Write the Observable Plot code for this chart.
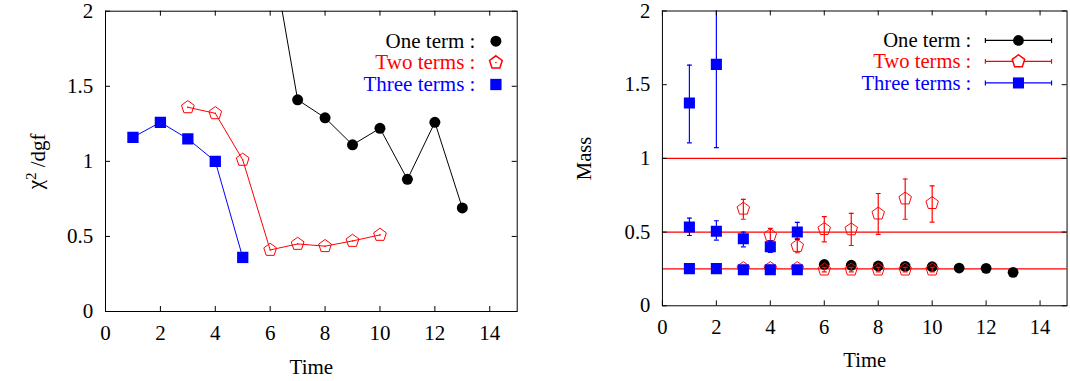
<!DOCTYPE html>
<html><head><meta charset="utf-8">
<script src="https://cdn.jsdelivr.net/npm/d3@7"></script>
<script src="https://cdn.jsdelivr.net/npm/@observablehq/plot@0.6"></script>
<style>
html,body{margin:0;padding:0;background:#fff;}
#wrap{position:relative;width:1070px;height:381px;overflow:hidden;background:#fff;}
#left,#right{position:absolute;top:0;}
#left{left:0;} #right{left:535px;}
#wrap svg{font-family:'Liberation Serif','Times New Roman',Times,serif !important;font-size:21px !important;}
</style></head><body><div id="wrap"><div id="left"></div><div id="right"></div></div>
<script>
// ---- tick labels / names ----
const xTicks = [0, 2, 4, 6, 8, 10, 12, 14];
const yTicks = [0, 0.5, 1, 1.5, 2];
const legendNames = ["One term :", "Two terms :", "Three terms :"];
const xLabel = "Time";
const yLabelLeft = "χ2/dgf";
const yLabelRight = "Mass";

// ---- left panel: chi^2 / dgf ----
const chiOneT = [6, 7, 8, 9, 10, 11, 12, 13];
const chiOne = [2.46, 1.41, 1.29, 1.11, 1.22, 0.88, 1.26, 0.69];
const chiTwoT = [3, 4, 5, 6, 7, 8, 9, 10];
const chiTwo = [1.36, 1.32, 1.01, 0.41, 0.45, 0.435, 0.47, 0.51];
const chiThreeT = [1, 2, 3, 4, 5];
const chiThree = [1.16, 1.26, 1.15, 1.00, 0.36];

// ---- right panel: masses ----
const refMasses = [0.25, 0.5, 1.0];
const massOneT = [6, 7, 8, 9, 10, 11, 12, 13];
const massOne = [0.28, 0.275, 0.27, 0.267, 0.265, 0.256, 0.254, 0.227];
const massOneErr = [0.012, 0.012, 0.012, 0.012, 0.012, 0.008, 0.008, 0.008];

const massTwoT = [3, 4, 5, 6, 7, 8, 9, 10];
const massTwoGround = [0.255, 0.255, 0.255, 0.245, 0.245, 0.245, 0.245, 0.245];
const massTwoGroundErr = [0.02, 0.02, 0.02, 0.015, 0.015, 0.015, 0.015, 0.015];
const massTwoExc = [0.658, 0.478, 0.405, 0.52, 0.518, 0.625, 0.727, 0.696];
const massTwoExcLo = [0.587, 0.44, 0.36, 0.433, 0.409, 0.485, 0.587, 0.567];
const massTwoExcHi = [0.722, 0.525, 0.455, 0.605, 0.627, 0.762, 0.86, 0.813];

const massThreeT = [1, 2, 3, 4, 5];
const massThreeGround = [0.252, 0.252, 0.244, 0.244, 0.244];
const massThreeGroundErr = [0.01, 0.01, 0.01, 0.01, 0.01];
const massThreeExc1 = [0.535, 0.506, 0.455, 0.40, 0.50];
const massThreeExc1Lo = [0.477, 0.446, 0.40, 0.362, 0.45];
const massThreeExc1Hi = [0.595, 0.577, 0.50, 0.44, 0.566];
const massThreeExc2T = [1, 2];
const massThreeExc2 = [1.376, 1.638];
const massThreeExc2Lo = [1.105, 1.073];
const massThreeExc2Hi = [1.633, 2.3];

// ---- helpers ----
const rows = (ts, vs) => ts.map((t, i) => ({t, v: vs[i]}));
const rowsErr = (ts, vs, lo, hi) => ts.map((t, i) => ({t, v: vs[i], lo: lo[i], hi: hi[i]}));
const rowsSym = (ts, vs, e) => ts.map((t, i) => ({t, v: vs[i], lo: vs[i] - e[i], hi: vs[i] + e[i]}));

const pentagon = {
  draw(ctx, size) {
    const r = Math.sqrt(size / Math.PI);
    for (let k = 0; k < 5; k++) {
      const a = -Math.PI / 2 + k * 2 * Math.PI / 5;
      const px = r * Math.cos(a), py = r * Math.sin(a);
      if (k === 0) ctx.moveTo(px, py); else ctx.lineTo(px, py);
    }
    ctx.closePath();
  }
};
const cap = { draw(ctx) { ctx.moveTo(-2.5, 0); ctx.lineTo(2.5, 0); } };
const legendBar = {
  draw(ctx) {
    const w = 33.7, h = 2.5;
    ctx.moveTo(-w, 0); ctx.lineTo(w, 0);
    ctx.moveTo(-w, -h); ctx.lineTo(-w, h);
    ctx.moveTo(w, -h); ctx.lineTo(w, h);
  }
};

const FONT = "Liberation Serif";
const FS = 21;
const H = 381, MT = 10.7, MB = 70;
const innerH = H - MT - MB;
const fmt = d3.format("~g");

function frameMarks(innerW, yLabel, yLabelDx) {
  return [
    Plot.tickX(xTicks, {x: d => d, insetTop: innerH - 5, stroke: "black"}),
    Plot.tickX(xTicks, {x: d => d, insetBottom: innerH - 5, stroke: "black"}),
    Plot.tickY(yTicks, {y: d => d, insetRight: innerW - 5, stroke: "black"}),
    Plot.tickY(yTicks, {y: d => d, insetLeft: innerW - 5, stroke: "black"}),
    Plot.axisX({ticks: xTicks, tickSize: 0, tickPadding: 14, label: null, tickFormat: fmt, fontSize: FS, fontFamily: FONT, fill: "black"}),
    Plot.axisY({ticks: yTicks, tickSize: 0, tickPadding: 12.3, label: null, tickFormat: fmt, fontSize: FS, fontFamily: FONT, fill: "black"}),
    Plot.text([xLabel], {frameAnchor: "bottom", dy: 55.3, lineAnchor: "middle", fill: "black", fontSize: FS, fontFamily: FONT}),
    Plot.text([yLabel], {frameAnchor: "left", rotate: -90, dx: yLabelDx, lineAnchor: "middle", textAnchor: "middle", fill: "black", fontSize: FS, fontFamily: FONT, className: "ylab"}),
    Plot.frame({stroke: "black"})
  ];
}

function errorMarks(data, color) {
  return [
    Plot.ruleX(data, {x: "t", y1: "lo", y2: "hi", stroke: color, strokeWidth: 1.2, clip: true}),
    Plot.dot(data, {x: "t", y: "hi", symbol: cap, r: 3, stroke: color, fill: "none", strokeWidth: 1.2, clip: true}),
    Plot.dot(data, {x: "t", y: "lo", symbol: cap, r: 3, stroke: color, fill: "none", strokeWidth: 1.2, clip: true})
  ];
}

const legendDy = [30, 51.3, 73.3];
const legendColors = ["black", "red", "blue"];
function legendTexts(dx) {
  return legendNames.map((name, i) =>
    Plot.text([name], {frameAnchor: "top-right", dx, dy: legendDy[i], textAnchor: "end", lineAnchor: "middle", fill: legendColors[i], fontSize: FS, fontFamily: FONT}));
}

// ---- LEFT ----
const LW = 535, LML = 105, LMR = 18.3;
const leftInnerW = LW - LML - LMR;
const one = rows(chiOneT, chiOne), two = rows(chiTwoT, chiTwo), three = rows(chiThreeT, chiThree);

const left = Plot.plot({
  width: LW, height: H, marginLeft: LML, marginRight: LMR, marginTop: MT, marginBottom: MB,
  x: {domain: [0, 15]}, y: {domain: [0, 2]},
  style: {fontFamily: FONT, fontSize: "21px", background: "white", color: "black", overflow: "visible"},
  marks: [
    Plot.line(one, {x: "t", y: "v", stroke: "black", strokeWidth: 1, clip: true}),
    Plot.dot(one, {x: "t", y: "v", r: 5.5, fill: "black", stroke: "none", clip: true}),
    Plot.line(two, {x: "t", y: "v", stroke: "red", strokeWidth: 1, clip: true}),
    Plot.dot(two, {x: "t", y: "v", symbol: pentagon, r: 6.7, fill: "none", stroke: "red", strokeWidth: 1, clip: true}),
    Plot.dot(two, {x: "t", y: "v", r: 0.8, fill: "red", stroke: "none", clip: true}),
    Plot.line(three, {x: "t", y: "v", stroke: "blue", strokeWidth: 1, clip: true}),
    Plot.dot(three, {x: "t", y: "v", symbol: "square", r: 6.37, fill: "blue", stroke: "none", clip: true}),
    ...frameMarks(leftInnerW, yLabelLeft, -70.2),
    ...legendTexts(-41.8),
    Plot.dot([0], {frameAnchor: "top-right", dx: -21.3, dy: legendDy[0], r: 5.5, fill: "black"}),
    Plot.dot([0], {frameAnchor: "top-right", dx: -21.3, dy: legendDy[1], symbol: pentagon, r: 6.7, fill: "none", stroke: "red"}),
    Plot.dot([0], {frameAnchor: "top-right", dx: -21.3, dy: legendDy[1], r: 0.8, fill: "red"}),
    Plot.dot([0], {frameAnchor: "top-right", dx: -21.3, dy: legendDy[2], symbol: "square", r: 6.37, fill: "blue"})
  ]
});
document.getElementById("left").appendChild(left);

// superscript the "2" in χ2/dgf (kept as real text, split into tspans)
left.querySelectorAll("text").forEach(t => {
  if (t.textContent === yLabelLeft) {
    const ns = "http://www.w3.org/2000/svg";
    t.textContent = "";
    const a = document.createElementNS(ns, "tspan"); a.textContent = "χ";
    const b = document.createElementNS(ns, "tspan"); b.textContent = "2";
    b.setAttribute("dy", "-0.42em"); b.setAttribute("font-size", "15");
    const c = document.createElementNS(ns, "tspan"); c.textContent = " /dgf";
    c.setAttribute("dy", "0.42em"); c.setAttribute("font-size", "21");
    t.append(a, b, c);
  }
});

// ---- RIGHT ----
const RW = 545, RML = 129.3, RMR = 3.5;
const rightInnerW = RW - RML - RMR;
const mOne = rowsSym(massOneT, massOne, massOneErr);
const mTwoG = rowsSym(massTwoT, massTwoGround, massTwoGroundErr);
const mTwoE = rowsErr(massTwoT, massTwoExc, massTwoExcLo, massTwoExcHi);
const mThreeG = rowsSym(massThreeT, massThreeGround, massThreeGroundErr);
const mThreeE1 = rowsErr(massThreeT, massThreeExc1, massThreeExc1Lo, massThreeExc1Hi);
const mThreeE2 = rowsErr(massThreeExc2T, massThreeExc2, massThreeExc2Lo, massThreeExc2Hi);

const legRDxText = -97.5, legRDxMark = -49.5;
const right = Plot.plot({
  width: RW, height: H, marginLeft: RML, marginRight: RMR, marginTop: MT, marginBottom: MB,
  x: {domain: [0, 15]}, y: {domain: [0, 2]},
  style: {fontFamily: FONT, fontSize: "21px", background: "white", color: "black", overflow: "visible"},
  marks: [
    Plot.ruleY(refMasses, {y: d => d, stroke: "red", strokeWidth: 1.2}),
    ...errorMarks(mOne, "black"),
    Plot.dot(mOne, {x: "t", y: "v", r: 5.5, fill: "black", stroke: "none", clip: true}),
    ...errorMarks(mTwoG, "red"),
    ...errorMarks(mTwoE, "red"),
    Plot.dot(mTwoG, {x: "t", y: "v", symbol: pentagon, r: 6.7, fill: "none", stroke: "red", strokeWidth: 1, clip: true}),
    Plot.dot(mTwoE, {x: "t", y: "v", symbol: pentagon, r: 6.7, fill: "none", stroke: "red", strokeWidth: 1, clip: true}),
    ...errorMarks(mThreeG, "blue"),
    ...errorMarks(mThreeE1, "blue"),
    ...errorMarks(mThreeE2, "blue"),
    Plot.dot(mThreeG, {x: "t", y: "v", symbol: "square", r: 6.37, fill: "blue", stroke: "none", clip: true}),
    Plot.dot(mThreeE1, {x: "t", y: "v", symbol: "square", r: 6.37, fill: "blue", stroke: "none", clip: true}),
    Plot.dot(mThreeE2, {x: "t", y: "v", symbol: "square", r: 6.37, fill: "blue", stroke: "none", clip: true}),
    ...frameMarks(rightInnerW, yLabelRight, -79.3),
    ...legendTexts(legRDxText),
    ...legendColors.map((c, i) => Plot.dot([0], {frameAnchor: "top-right", dx: legRDxMark, dy: legendDy[i], symbol: legendBar, r: 3, fill: "none", stroke: c, strokeWidth: 1.2})),
    Plot.dot([0], {frameAnchor: "top-right", dx: legRDxMark, dy: legendDy[0], r: 5.5, fill: "black"}),
    Plot.dot([0], {frameAnchor: "top-right", dx: legRDxMark, dy: legendDy[1], symbol: pentagon, r: 6.7, fill: "white", stroke: "red"}),
    Plot.dot([0], {frameAnchor: "top-right", dx: legRDxMark, dy: legendDy[2], symbol: "square", r: 6.37, fill: "blue"})
  ]
});
document.getElementById("right").appendChild(right);
</script></body></html>
